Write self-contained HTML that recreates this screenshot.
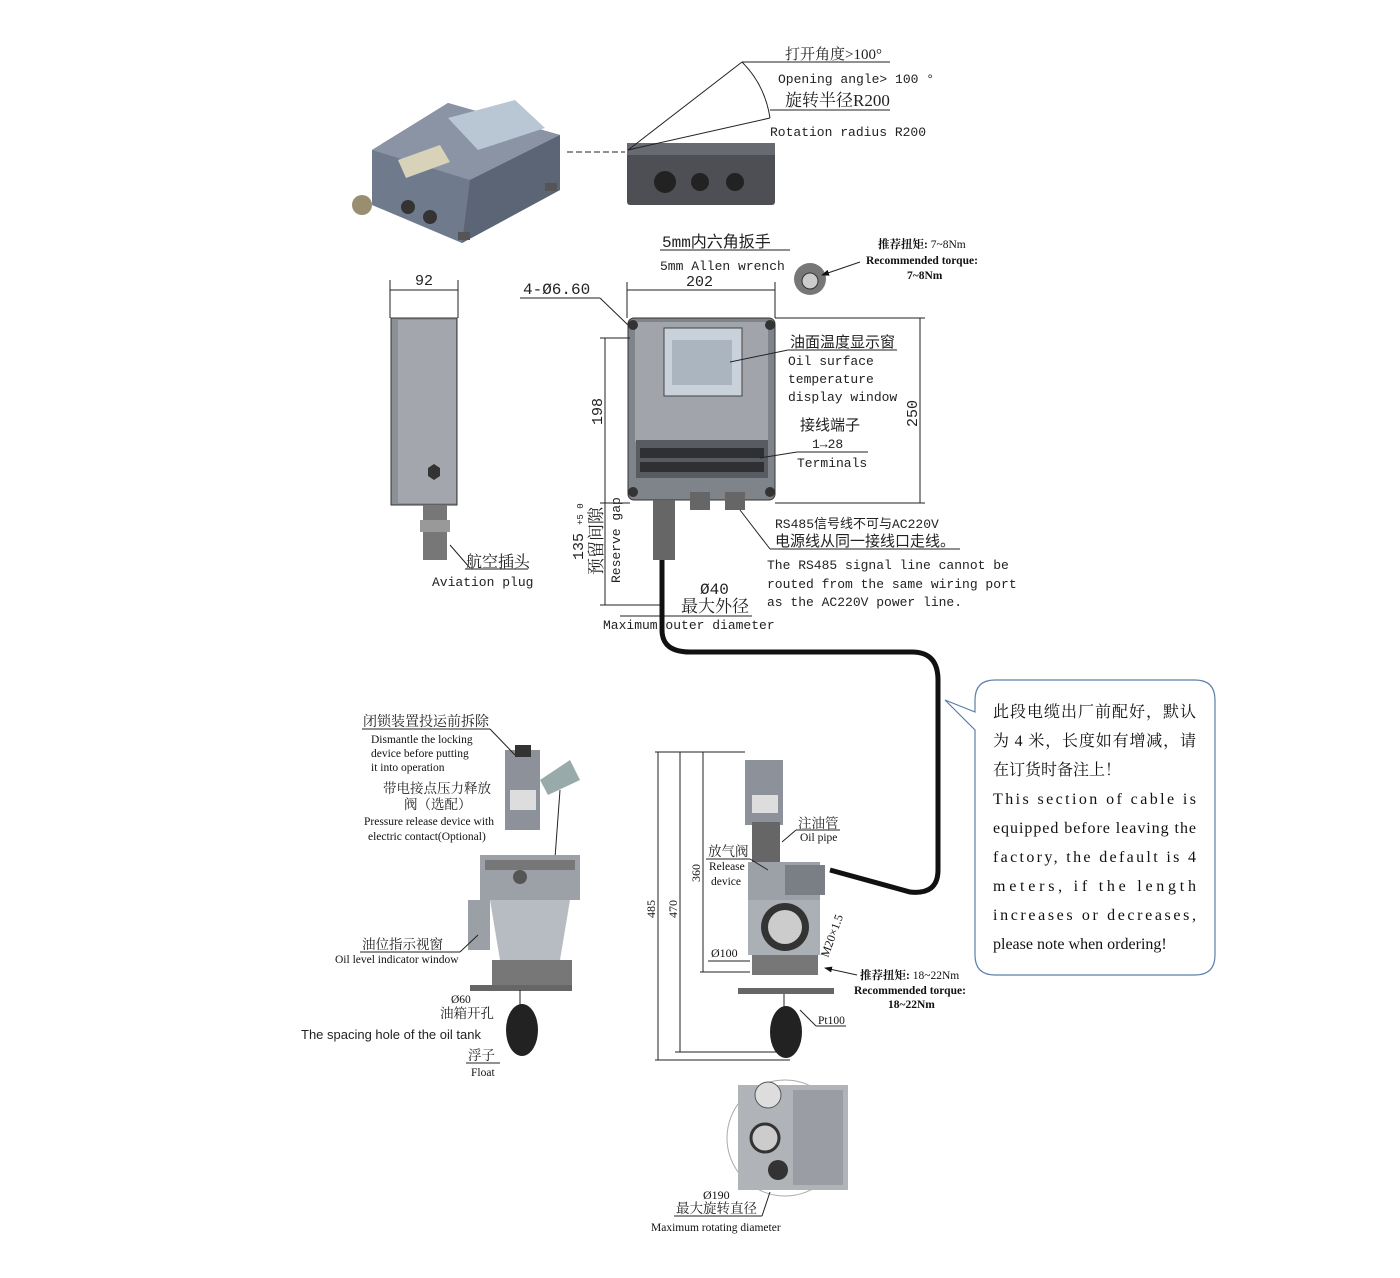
<!DOCTYPE html>
<html><head><meta charset="utf-8"><style>
html,body{margin:0;padding:0;background:#fff;}
svg{display:block;}
.m{font-family:"Liberation Mono","Noto Sans CJK SC",monospace;font-size:13px;fill:#222;}
.s{font-family:"Liberation Serif","Noto Serif CJK SC",serif;font-size:15px;fill:#222;}
.ss{font-family:"Liberation Serif","Noto Serif CJK SC",serif;font-size:11.5px;fill:#111;}
.b{font-weight:bold;}
.a{font-family:"Liberation Sans",sans-serif;font-size:13px;fill:#222;}
.c{font-family:"Liberation Serif","Noto Serif CJK SC",serif;font-size:16px;fill:#111;}
line,path.l,polyline{stroke:#222;stroke-width:1;fill:none;}
</style></head><body>
<svg width="1400" height="1278" viewBox="0 0 1400 1278" xmlns="http://www.w3.org/2000/svg">
<defs><marker id="ar" markerWidth="8" markerHeight="8" refX="7" refY="4" orient="auto"><path d="M0,1 L8,4 L0,7z" fill="#111"/></marker></defs>

<!-- 3D box top-left -->
<polygon points="372,150 448,103 560,135 560,190 462,243 372,205" fill="#6f7a8c"/>
<polygon points="372,150 448,103 560,135 470,180" fill="#8a94a5"/>
<polygon points="448,118 515,100 545,128 478,150" fill="#b9c7d4"/>
<polygon points="398,160 440,145 450,162 406,178" fill="#d8d2b8"/>
<polygon points="470,180 560,135 560,190 462,243" fill="#5b6576"/>
<circle cx="362" cy="205" r="10" fill="#9a8e70"/>
<circle cx="408" cy="207" r="7" fill="#333"/><circle cx="430" cy="217" r="7" fill="#333"/>
<rect x="545" y="183" width="12" height="8" fill="#555"/><rect x="458" y="232" width="12" height="8" fill="#555"/>

<!-- side view top -->
<line x1="567" y1="152" x2="625" y2="152" stroke-dasharray="6,3"/>
<rect x="627" y="143" width="148" height="62" rx="3" fill="#4d4f55"/>
<rect x="627" y="143" width="148" height="12" fill="#676a70"/>
<circle cx="665" cy="182" r="11" fill="#222"/><circle cx="700" cy="182" r="9" fill="#222"/><circle cx="735" cy="182" r="9" fill="#222"/>
<line x1="628" y1="150" x2="742" y2="62"/>
<line x1="628" y1="150" x2="770" y2="118"/>
<path class="l" d="M742,62 Q765,85 770,118"/>
<line x1="742" y1="62" x2="890" y2="62"/>
<line x1="770" y1="110" x2="890" y2="110"/>
<text class="s" x="785" y="59">打开角度&gt;100°</text>
<text class="m" x="778" y="83">Opening angle&gt; 100 °</text>
<text class="s" x="785" y="106" style="font-size:17px">旋转半径R200</text>
<text class="m" x="770" y="136">Rotation radius R200</text>

<!-- side box middle-left -->
<text class="m" x="415" y="285" style="font-size:15px">92</text>
<line x1="390" y1="290" x2="458" y2="290"/>
<line x1="390" y1="280" x2="390" y2="318"/><line x1="458" y1="280" x2="458" y2="318"/>
<rect x="391" y="318" width="66" height="187" fill="#8b8f96" stroke="#333"/>
<rect x="398" y="320" width="58" height="183" fill="#a3a7ad"/>
<polygon points="428,468 434,464 440,468 440,476 434,480 428,476" fill="#333"/>
<rect x="423" y="505" width="24" height="55" fill="#777"/>
<rect x="420" y="520" width="30" height="12" fill="#999"/>
<line x1="450" y1="545" x2="470" y2="568"/>
<line x1="465" y1="569" x2="528" y2="569"/>
<text class="s" x="466" y="567" style="font-size:16px">航空插头</text>
<text class="m" x="432" y="586">Aviation plug</text>

<!-- front view -->
<text class="m" x="523" y="294" style="font-size:16px">4-Ø6.60</text>
<line x1="520" y1="298" x2="600" y2="298"/><line x1="600" y1="298" x2="628" y2="325"/>
<text class="m" x="686" y="286" style="font-size:15px">202</text>
<line x1="627" y1="290" x2="775" y2="290"/>
<line x1="627" y1="282" x2="627" y2="318"/><line x1="775" y1="282" x2="775" y2="318"/>
<text class="m" x="662" y="247" style="font-size:16px">5mm内六角扳手</text>
<line x1="660" y1="250" x2="790" y2="250"/>
<text class="m" x="660" y="270">5mm Allen wrench</text>
<circle cx="810" cy="279" r="16" fill="#777"/><circle cx="810" cy="281" r="8" fill="#ccc" stroke="#333"/>
<line x1="860" y1="262" x2="822" y2="275" marker-end="url(#ar)"/>
<text class="ss b" x="878" y="248">推荐扭矩: <tspan font-weight="normal">7~8Nm</tspan></text>
<text class="ss b" x="866" y="264">Recommended torque:</text>
<text class="ss b" x="907" y="279">7~8Nm</text>

<rect x="628" y="318" width="147" height="182" rx="6" fill="#7f848a" stroke="#333"/>
<rect x="635" y="322" width="133" height="120" fill="#a1a5ab"/>
<rect x="664" y="328" width="78" height="68" fill="#c9d2da" stroke="#444"/>
<rect x="672" y="340" width="60" height="45" fill="#aab5c0"/>
<rect x="636" y="440" width="132" height="38" fill="#585c62"/>
<rect x="640" y="448" width="124" height="10" fill="#2e3034"/>
<rect x="640" y="462" width="124" height="10" fill="#2e3034"/>
<rect x="690" y="492" width="20" height="18" fill="#666"/><rect x="725" y="492" width="20" height="18" fill="#666"/>
<rect x="653" y="500" width="22" height="60" fill="#666"/>
<circle cx="633" cy="325" r="5" fill="#333"/><circle cx="770" cy="325" r="5" fill="#333"/>
<circle cx="633" cy="492" r="5" fill="#333"/><circle cx="770" cy="492" r="5" fill="#333"/>

<text class="m" x="790" y="347" style="font-size:15px">油面温度显示窗</text>
<line x1="788" y1="350" x2="897" y2="350"/><line x1="788" y1="350" x2="730" y2="362"/>
<text class="m" x="788" y="365">Oil surface</text>
<text class="m" x="788" y="383">temperature</text>
<text class="m" x="788" y="401">display window</text>
<text class="m" x="800" y="430" style="font-size:15px">接线端子</text>
<text class="m" x="812" y="448">1→28</text>
<line x1="797" y1="452" x2="868" y2="452"/><line x1="797" y1="452" x2="760" y2="458"/>
<text class="m" x="797" y="467">Terminals</text>
<text class="m" x="917" y="427" transform="rotate(-90 917 427)" style="font-size:15px">250</text>
<line x1="920" y1="318" x2="920" y2="503"/><line x1="775" y1="318" x2="925" y2="318"/><line x1="775" y1="503" x2="925" y2="503"/>
<text class="m" x="602" y="425" transform="rotate(-90 602 425)" style="font-size:15px">198</text>
<line x1="605" y1="338" x2="605" y2="605"/><line x1="600" y1="338" x2="630" y2="338"/>
<line x1="600" y1="503" x2="630" y2="503"/>
<text class="m" x="583" y="560" transform="rotate(-90 583 560)" style="font-size:15px">135</text>
<text class="m" x="583" y="525" transform="rotate(-90 583 525)" style="font-size:9px">+5 0</text>
<text class="s" x="602" y="575" transform="rotate(-90 602 575)" style="font-size:17px">预留间隙</text>
<text class="m" x="620" y="583" transform="rotate(-90 620 583)" style="font-size:13px">Reserve gap</text>
<line x1="600" y1="605" x2="660" y2="605"/>

<text class="m" x="775" y="528">RS485信号线不可与AC220V</text>
<text class="m" x="775" y="546" style="font-size:15px">电源线从同一接线口走线。</text>
<line x1="770" y1="549" x2="960" y2="549"/><line x1="770" y1="549" x2="740" y2="510"/>
<text class="m" x="767" y="569">The RS485 signal line cannot be</text>
<text class="m" x="767" y="588">routed from the same wiring port</text>
<text class="m" x="767" y="606">as the AC220V power line.</text>
<text class="m" x="700" y="594" style="font-size:16px">Ø40</text>
<text class="s" x="681" y="612" style="font-size:17px">最大外径</text>
<line x1="620" y1="616" x2="752" y2="616"/>
<text class="m" x="603" y="629">Maximum outer diameter</text>

<!-- cable -->
<path d="M662,560 L662,630 Q662,652 690,652 L912,652 Q938,652 938,680 L938,870 Q938,895 910,892 L830,870" stroke="#111" stroke-width="5" fill="none"/>

<!-- callout -->
<path d="M995,680 L1195,680 Q1215,680 1215,700 L1215,955 Q1215,975 1195,975 L995,975 Q975,975 975,955 L975,730 L945,700 L975,712 L975,700 Q975,680 995,680z" fill="#fff" stroke="#5a7fa8" stroke-width="1.2"/>
<text class="c" x="993" y="717" textLength="203" lengthAdjust="spacing">此段电缆出厂前配好，默认</text>
<text class="c" x="993" y="746" textLength="203" lengthAdjust="spacing">为 4 米，长度如有增减，请</text>
<text class="c" x="993" y="775">在订货时备注上！</text>
<text class="c" x="993" y="804" textLength="203" lengthAdjust="spacing">This section of cable is</text>
<text class="c" x="993" y="833" textLength="203" lengthAdjust="spacing">equipped before leaving the</text>
<text class="c" x="993" y="862" textLength="203" lengthAdjust="spacing">factory, the default is 4</text>
<text class="c" x="993" y="891" textLength="203" lengthAdjust="spacing">meters, if the length</text>
<text class="c" x="993" y="920" textLength="203" lengthAdjust="spacing">increases or decreases,</text>
<text class="c" x="993" y="949">please note when ordering!</text>

<!-- bottom-left device -->
<rect x="505" y="750" width="35" height="80" fill="#8d929a"/>
<rect x="510" y="790" width="26" height="20" fill="#ddd"/>
<rect x="515" y="745" width="16" height="12" fill="#333"/>
<polygon points="540,780 570,760 580,780 548,795" fill="#9aa"/>
<line x1="560" y1="790" x2="555" y2="858" stroke="#222" stroke-width="4"/>
<rect x="480" y="855" width="100" height="45" fill="#9ca1a8"/>
<rect x="485" y="860" width="90" height="10" fill="#777"/>
<circle cx="520" cy="877" r="7" fill="#555"/>
<polygon points="490,900 570,900 560,960 500,960" fill="#b7bcc2"/>
<rect x="468" y="900" width="22" height="50" fill="#9aa0a6"/>
<rect x="492" y="960" width="80" height="30" fill="#777"/>
<rect x="470" y="985" width="102" height="6" fill="#666"/>
<line x1="520" y1="990" x2="520" y2="1010" stroke-width="3"/>
<ellipse cx="522" cy="1030" rx="16" ry="26" fill="#222"/>
<text class="s" x="363" y="726" style="font-size:14px">闭锁装置投运前拆除</text>
<line x1="362" y1="729" x2="490" y2="729"/><line x1="490" y1="729" x2="515" y2="755"/>
<text class="ss" x="371" y="743">Dismantle the locking</text>
<text class="ss" x="371" y="757">device before putting</text>
<text class="ss" x="371" y="771">it into operation</text>
<text class="s" x="383" y="793" style="font-size:13.5px">带电接点压力释放</text>
<text class="s" x="404" y="809" style="font-size:13.5px">阀（选配）</text>
<text class="ss" x="364" y="825">Pressure release device with</text>
<text class="ss" x="368" y="840">electric contact(Optional)</text>
<text class="s" x="362" y="949" style="font-size:13.5px">油位指示视窗</text>
<line x1="360" y1="952" x2="460" y2="952"/><line x1="460" y1="952" x2="478" y2="935"/>
<text class="ss" x="335" y="963">Oil level indicator window</text>
<text class="ss" x="451" y="1003">Ø60</text>
<text class="s" x="440" y="1018" style="font-size:13.5px">油箱开孔</text>
<text class="a" x="301" y="1039">The spacing hole of the oil tank</text>
<text class="s" x="468" y="1060" style="font-size:13.5px">浮子</text>
<line x1="466" y1="1063" x2="500" y2="1063"/>
<text class="ss" x="471" y="1076">Float</text>

<!-- bottom-middle device -->
<rect x="745" y="760" width="38" height="65" fill="#8d929a"/>
<rect x="752" y="795" width="26" height="18" fill="#ddd"/>
<rect x="752" y="822" width="28" height="40" fill="#666"/>
<rect x="748" y="862" width="72" height="38" fill="#9ca1a8"/>
<rect x="785" y="865" width="40" height="30" fill="#7a7f86"/>
<rect x="748" y="900" width="72" height="55" fill="#aab0b6"/>
<circle cx="785" cy="927" r="24" fill="#333"/><circle cx="785" cy="927" r="17" fill="#ccc"/>
<rect x="752" y="955" width="66" height="20" fill="#777"/>
<rect x="738" y="988" width="96" height="6" fill="#666"/>
<line x1="784" y1="994" x2="784" y2="1010" stroke-width="3"/>
<ellipse cx="786" cy="1032" rx="16" ry="26" fill="#222"/>
<line x1="655" y1="752" x2="745" y2="752"/><line x1="655" y1="1060" x2="790" y2="1060"/>
<line x1="658" y1="752" x2="658" y2="1060"/><line x1="680" y1="752" x2="680" y2="1052"/><line x1="703" y1="752" x2="703" y2="972"/>
<line x1="675" y1="1052" x2="790" y2="1052"/><line x1="700" y1="972" x2="750" y2="972"/>
<text class="ss" x="655" y="918" transform="rotate(-90 655 918)" style="font-size:12px">485</text>
<text class="ss" x="677" y="918" transform="rotate(-90 677 918)" style="font-size:12px">470</text>
<text class="ss" x="700" y="882" transform="rotate(-90 700 882)" style="font-size:12px">360</text>
<text class="ss" x="711" y="957" style="font-size:12px">Ø100</text>
<line x1="708" y1="961" x2="750" y2="961"/>
<text class="s" x="708" y="856" style="font-size:13.5px">放气阀</text>
<line x1="706" y1="859" x2="750" y2="859"/><line x1="750" y1="859" x2="768" y2="870"/>
<text class="ss" x="709" y="870">Release</text><text class="ss" x="711" y="885">device</text>
<text class="s" x="798" y="828" style="font-size:13.5px">注油管</text>
<line x1="796" y1="830" x2="840" y2="830"/><line x1="796" y1="830" x2="782" y2="842"/>
<text class="ss" x="800" y="841">Oil pipe</text>
<text class="ss" x="828" y="958" transform="rotate(-70 828 958)" style="font-size:12px">M20×1.5</text>
<text class="ss b" x="860" y="979">推荐扭矩: <tspan font-weight="normal">18~22Nm</tspan></text>
<line x1="857" y1="975" x2="825" y2="968" marker-end="url(#ar)"/>
<text class="ss b" x="854" y="994">Recommended torque:</text>
<text class="ss b" x="888" y="1008">18~22Nm</text>
<text class="ss" x="818" y="1024">Pt100</text>
<line x1="816" y1="1026" x2="846" y2="1026"/><line x1="816" y1="1026" x2="800" y2="1010"/>

<!-- bottom view -->
<circle cx="785" cy="1138" r="58" fill="none" stroke="#aaa"/>
<rect x="738" y="1085" width="110" height="105" fill="#b0b4b9"/>
<rect x="793" y="1090" width="50" height="95" fill="#9a9ea4"/>
<circle cx="768" cy="1095" r="13" fill="#ddd" stroke="#555"/>
<circle cx="765" cy="1138" r="14" fill="#ccc" stroke="#333" stroke-width="3"/>
<circle cx="778" cy="1170" r="10" fill="#333"/>
<text class="ss" x="703" y="1199" style="font-size:12px">Ø190</text>
<text class="s" x="676" y="1213" style="font-size:13.5px">最大旋转直径</text>
<line x1="674" y1="1216" x2="762" y2="1216"/><line x1="762" y1="1216" x2="770" y2="1192"/>
<text class="ss" x="651" y="1231">Maximum rotating diameter</text>
</svg>
</body></html>
